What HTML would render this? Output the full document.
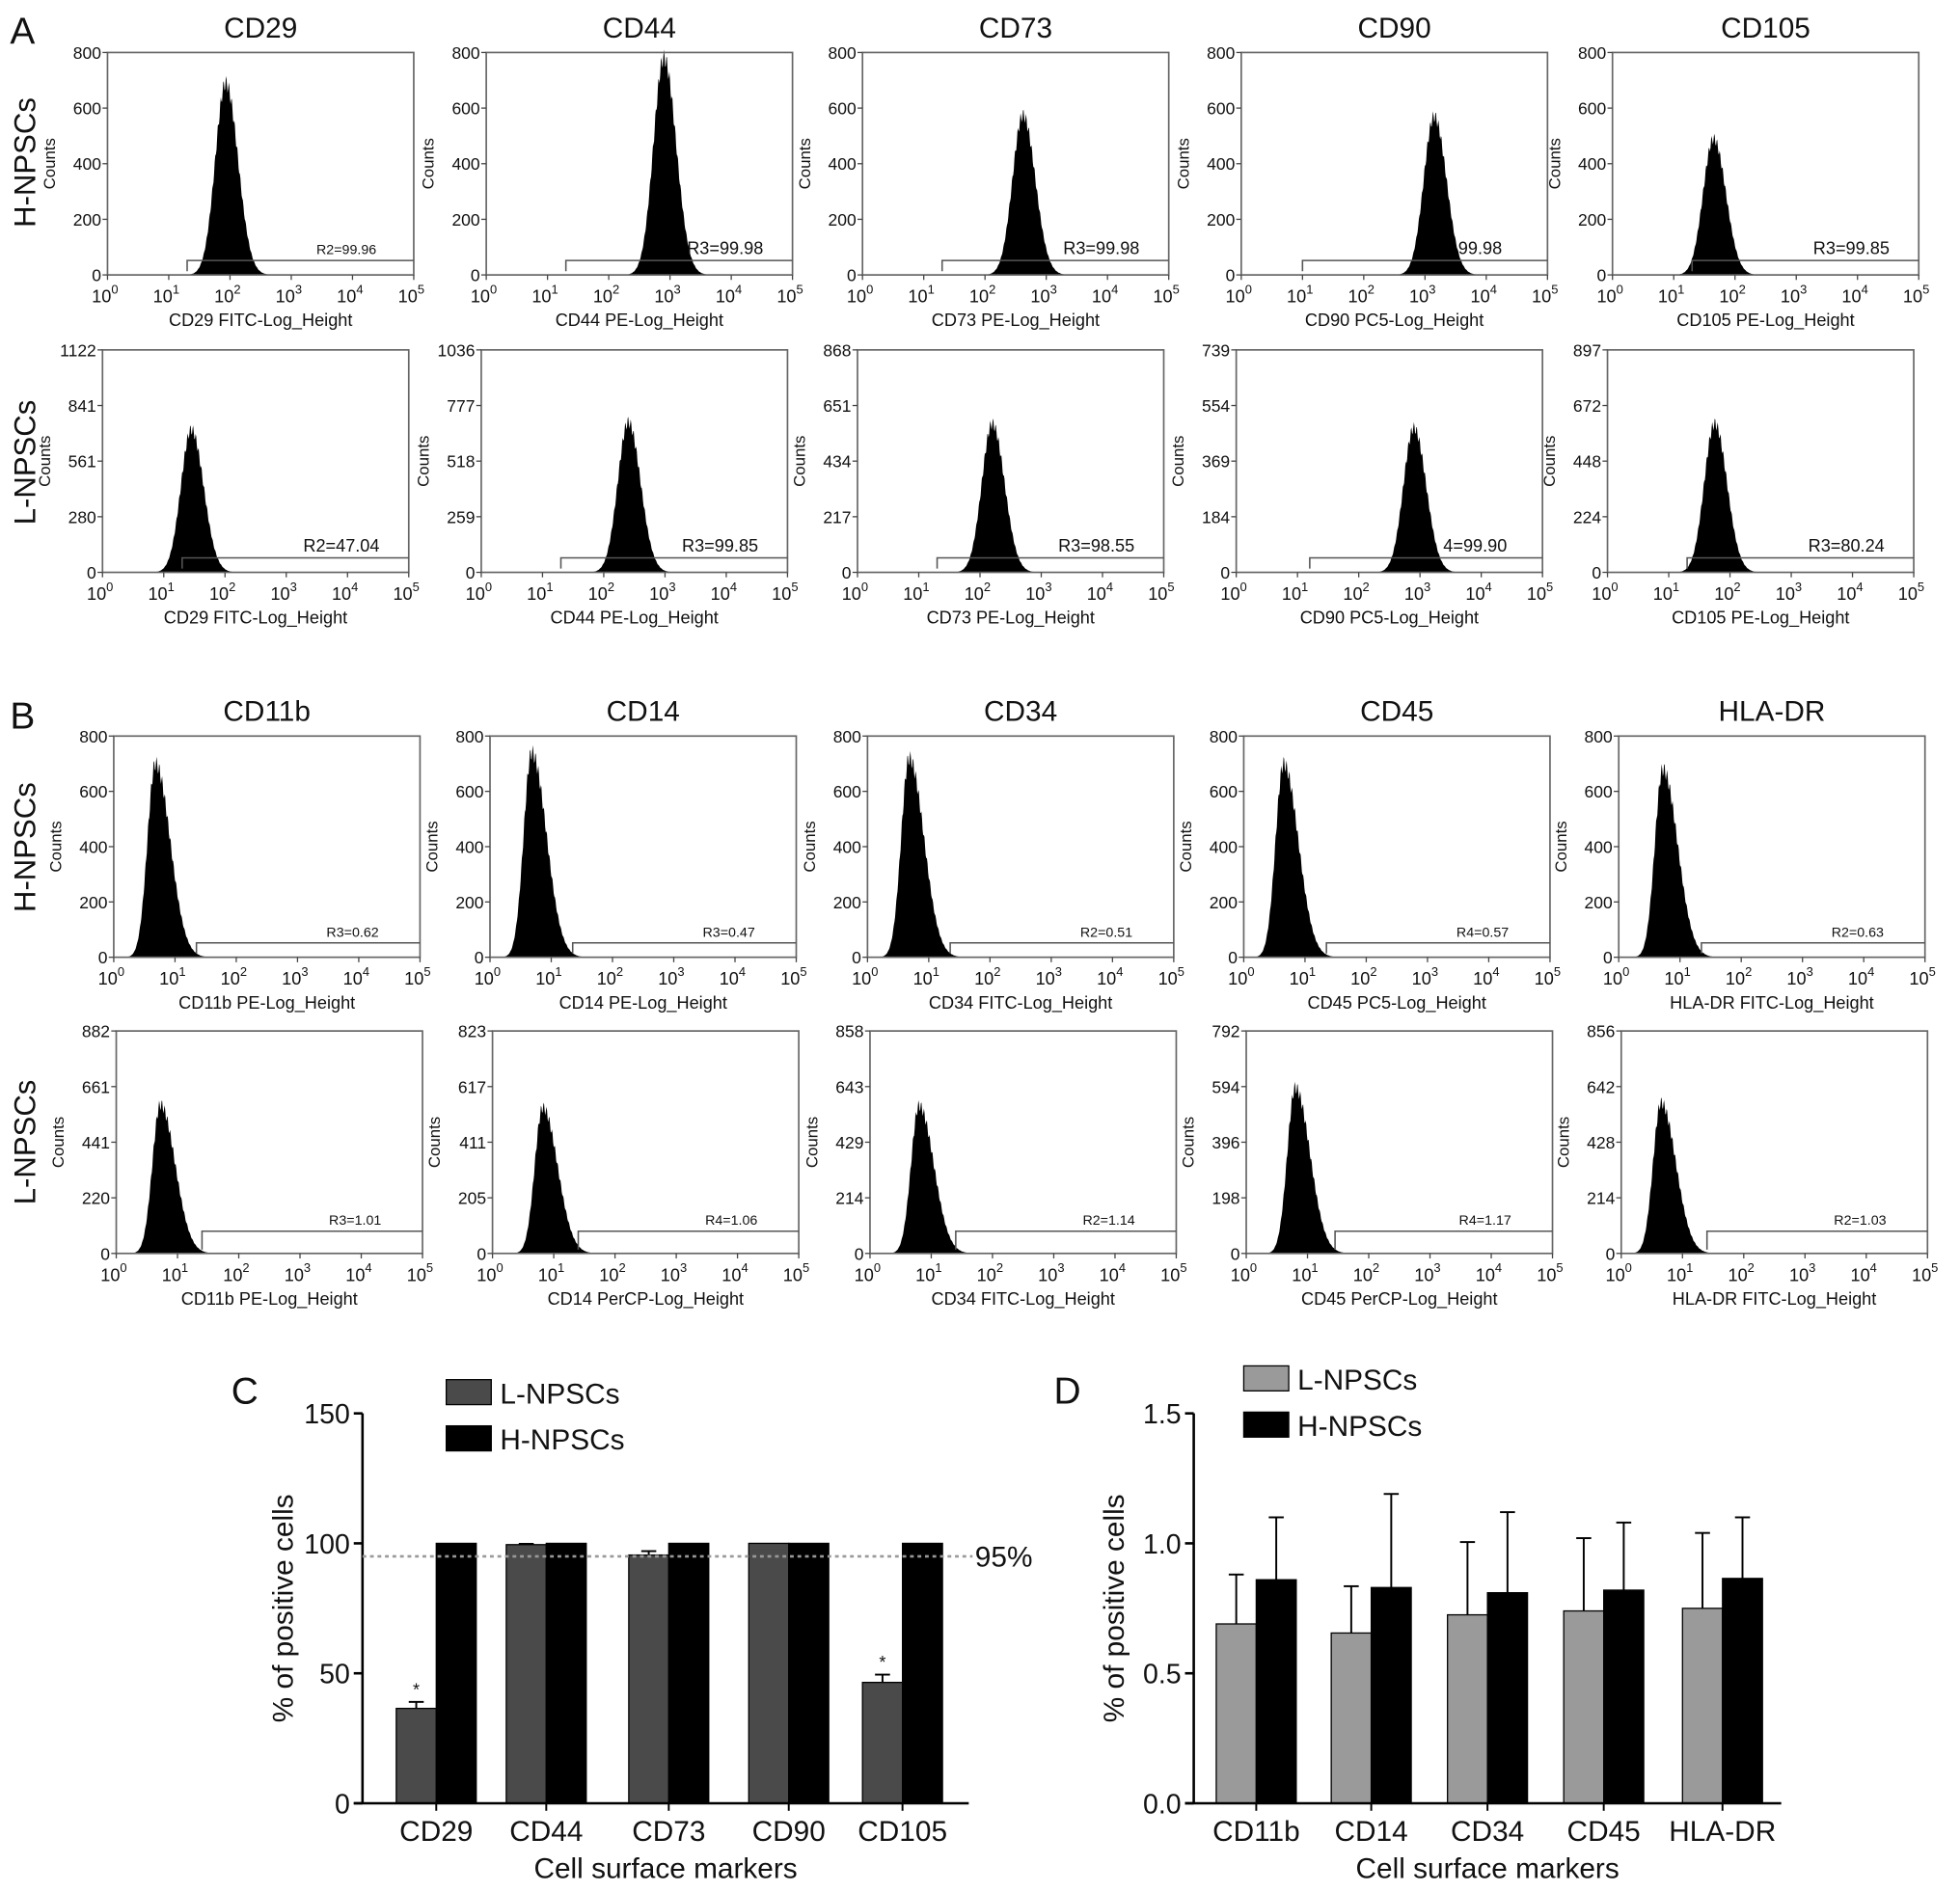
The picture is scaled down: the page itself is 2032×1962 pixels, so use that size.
<!DOCTYPE html>
<html><head><meta charset="utf-8">
<style>
html,body{margin:0;padding:0;background:#fff;}
svg{display:block;}
text{font-family:"Liberation Sans",Arial,sans-serif;fill:#111;}
</style></head>
<body>
<svg id="fig" width="2032" height="1962" viewBox="0 0 1568 1514" xmlns="http://www.w3.org/2000/svg">
<rect width="1568" height="1514" fill="#fff"/>
</svg>
<script>
// ===== Histogram panels data =====
const histTitlesA = ["CD29","CD44","CD73","CD90","CD105"];
const histTitlesB = ["CD11b","CD14","CD34","CD45","HLA-DR"];
const xTitlesA1 = ["CD29 FITC-Log_Height","CD44 PE-Log_Height","CD73 PE-Log_Height","CD90 PC5-Log_Height","CD105 PE-Log_Height"];
const xTitlesA2 = xTitlesA1;
const xTitlesB1 = ["CD11b PE-Log_Height","CD14 PE-Log_Height","CD34 FITC-Log_Height","CD45 PC5-Log_Height","HLA-DR FITC-Log_Height"];
const xTitlesB2 = ["CD11b PE-Log_Height","CD14 PerCP-Log_Height","CD34 FITC-Log_Height","CD45 PerCP-Log_Height","HLA-DR FITC-Log_Height"];
const yMaxA1 = [800,800,800,800,800];
const yMaxA2 = [1122,1036,868,739,897];
const yMaxB1 = [800,800,800,800,800];
const yMaxB2 = [882,823,858,792,856];
const yTicksA2 = [["0","280","561","841","1122"],["0","259","518","777","1036"],["0","217","434","651","868"],["0","184","369","554","739"],["0","224","448","672","897"]];
const yTicksB2 = [["0","220","441","661","882"],["0","205","411","617","823"],["0","214","429","643","858"],["0","198","396","594","792"],["0","214","428","642","856"]];
const peakA1 = [1.93,2.9,2.62,3.15,1.65];
const heightA1 = [690,780,575,570,490];
const peakA2 = [1.45,2.4,2.2,2.9,1.75];
const heightA2 = [720,700,580,480,600];
const peakB1 = [0.68,0.68,0.68,0.65,0.72];
const heightB1 = [700,740,720,700,680];
const peakB2 = [0.72,0.82,0.8,0.8,0.65];
const heightB2 = [590,540,570,590,580];
const gateA1 = [1.3,1.3,1.3,1.0,1.3];
const gateA2 = [1.3,1.3,1.3,1.2,1.3];
const gateB1 = [1.35,1.35,1.35,1.35,1.35];
const gateB2 = [1.4,1.4,1.4,1.45,1.4];
const gateLabelA1 = ["R2=99.96","R3=99.98","R3=99.98","99.98","R3=99.85"];
const gateLabelA2 = ["R2=47.04","R3=99.85","R3=98.55","4=99.90","R3=80.24"];
const gateLabelB1 = ["R3=0.62","R3=0.47","R2=0.51","R4=0.57","R2=0.63"];
const gateLabelB2 = ["R3=1.01","R4=1.06","R2=1.14","R4=1.17","R2=1.03"];

// ===== Bar chart C data =====
const catC = ["CD29","CD44","CD73","CD90","CD105"];
const lowC = [36.5,99.5,95.5,100,46.5];
const lowErrC = [2.5,0.3,1.5,0,3];
const highC = [100,100,100,100,100];
const highErrC = [0,0,0,0,0];
const ticksC = [0,50,100,150];
// ===== Bar chart D data =====
const catD = ["CD11b","CD14","CD34","CD45","HLA-DR"];
const lowD = [0.69,0.655,0.725,0.74,0.75];
const lowErrD = [0.19,0.18,0.28,0.28,0.29];
const highD = [0.86,0.83,0.81,0.82,0.865];
const highErrD = [0.24,0.36,0.31,0.26,0.235];
const ticksD = ["0.0","0.5","1.0","1.5"];

const NS="http://www.w3.org/2000/svg";
const svg=document.getElementById('fig');
function el(tag,attrs,parent,txt){const e=document.createElementNS(NS,tag);for(const k in attrs)e.setAttribute(k,attrs[k]);if(txt!==undefined)e.textContent=txt;(parent||svg).appendChild(e);return e;}

function histPlot(name,x0,y0,w,h,title,xTitle,yMax,yTickLabels,peak,ht,gate,gateLabel,skew,bigLabel,gateFrac){
  const g=el('g',{});
  
  
  const sx=v=>x0+v/5*w, sy=c=>y0+h-c/yMax*h;
  if(title){const t=el('text',{x:x0+w/2,y:y0-12,'font-size':23,'text-anchor':'middle'},g,title);}
  let lw=skew?0.13:0.17, rw=skew?0.24:0.2;
  let d=`M${sx(0)},${sy(0)}`;
  for(let v=0;v<=5.0001;v+=0.01){
    const s=v<peak?lw:rw; let c=ht*Math.exp(-0.5*Math.pow((v-peak)/s,2));
    const jitter=(Math.sin(v*137)*0.04)*c; c=Math.max(0,c+jitter);
    d+=` L${sx(v).toFixed(2)},${sy(c).toFixed(2)}`;
  }
  d+=` L${sx(5)},${sy(0)} Z`;
  const p=el('path',{d:d,fill:'#000'},g);
  
  const f=el('rect',{x:x0,y:y0,width:w,height:h,fill:'none',stroke:'#666','stroke-width':1.3},g);
  
  const gy=sy(yMax*gateFrac), gx=sx(gate);
  const gp=el('path',{d:`M${gx},${sy(0)-3} L${gx},${gy} L${x0+w},${gy}`,fill:'none',stroke:'#555','stroke-width':1.2},g);
  
  const gl=el('text',{x:x0+w*0.78,y:gy-5,'font-size':bigLabel?14:11,'text-anchor':'middle',fill:'#333'},g,gateLabel);
  
  yTickLabels.forEach((lab,i)=>{
    const yy=y0+h-i/4*h;
    el('line',{x1:x0-4,x2:x0,y1:yy,y2:yy,stroke:'#444'},g);
    const t=el('text',{x:x0-5,y:yy+5,'font-size':13.5,'text-anchor':'end'},g,lab);
    
  });
  for(let i=0;i<=5;i++){
    const xx=sx(i);
    el('line',{x1:xx,x2:xx,y1:y0+h,y2:y0+h+4,stroke:'#444'},g);
    const t=el('text',{x:xx-2,y:y0+h+22,'font-size':14,'text-anchor':'middle'},g);
    
    el('tspan',{},t,'10');el('tspan',{dy:-7,'font-size':10},t,String(i));
  }
  const xt=el('text',{x:x0+w/2,y:y0+h+41,'font-size':14,'text-anchor':'middle'},g,xTitle);
  
  const yt=el('text',{x:0,y:0,'font-size':13,'text-anchor':'middle',transform:`translate(${x0-42},${y0+h/2}) rotate(-90)`},g,'Counts');
  
}
const defTicks=["0","200","400","600","800"];
const colsA=[86,389,690,993,1290], colsB=[91,392,694,995,1295];
const W=245;
for(let i=0;i<5;i++){
  histPlot('hist-a-h-'+histTitlesA[i].toLowerCase(),colsA[i],42,W,178,histTitlesA[i],xTitlesA1[i],yMaxA1[i],defTicks,peakA1[i],heightA1[i],gateA1[i],gateLabelA1[i],false,i>0,0.065);
  histPlot('hist-a-l-'+histTitlesA[i].toLowerCase(),colsA[i]-4,280,W,178,null,xTitlesA2[i],yMaxA2[i],yTicksA2[i],peakA2[i],heightA2[i],gateA2[i],gateLabelA2[i],false,true,0.065);
  histPlot('hist-b-h-'+histTitlesB[i].toLowerCase(),colsB[i],589,W,177,histTitlesB[i],xTitlesB1[i],yMaxB1[i],defTicks,peakB1[i],heightB1[i],gateB1[i],gateLabelB1[i],true,false,0.065);
  histPlot('hist-b-l-'+histTitlesB[i].toLowerCase(),colsB[i]+2,825,W,178,null,xTitlesB2[i],yMaxB2[i],yTicksB2[i],peakB2[i],heightB2[i],gateB2[i],gateLabelB2[i],true,false,0.1);
}
function rowLabel(txt,cy,name){const t=el('text',{x:0,y:0,'font-size':24,'text-anchor':'middle',transform:`translate(28,${cy}) rotate(-90)`},svg,txt);}
rowLabel('H-NPSCs',130,'row-label-a-h');rowLabel('L-NPSCs',370,'row-label-a-l');
rowLabel('H-NPSCs',678,'row-label-b-h');rowLabel('L-NPSCs',914,'row-label-b-l');
function letter(txt,x,y,name){const t=el('text',{x:x,y:y,'font-size':30},svg,txt);}
letter('A',8,35,'panel-label-a');letter('B',8,583,'panel-label-b');letter('C',185,1123,'panel-label-c');letter('D',843,1123,'panel-label-d');

function barChart(pre,ax,x1,y0px,y1px,yMaxV,ticks,tickLab,cats,centers,low,lowErr,high,highErr,lowColor,legX,legY){
  const sy=v=>y0px-(v/yMaxV)*(y0px-y1px);
  const bw=32;
  cats.forEach((c,i)=>{
    const cx=centers[i];
    const b1=el('rect',{x:cx-bw,y:sy(low[i]),width:bw,height:y0px-sy(low[i]),fill:lowColor,stroke:'#000','stroke-width':1});
    
    if(lowErr[i]>0){el('line',{x1:cx-bw/2,x2:cx-bw/2,y1:sy(low[i]),y2:sy(low[i]+lowErr[i]),stroke:'#000','stroke-width':1.5});el('line',{x1:cx-bw/2-6,x2:cx-bw/2+6,y1:sy(low[i]+lowErr[i]),y2:sy(low[i]+lowErr[i]),stroke:'#000','stroke-width':1.5});}
    const b2=el('rect',{x:cx,y:sy(high[i]),width:bw,height:y0px-sy(high[i]),fill:'#000',stroke:'#000','stroke-width':1});
    
    if(highErr[i]>0){el('line',{x1:cx+bw/2,x2:cx+bw/2,y1:sy(high[i]),y2:sy(high[i]+highErr[i]),stroke:'#000','stroke-width':1.5});el('line',{x1:cx+bw/2-6,x2:cx+bw/2+6,y1:sy(high[i]+highErr[i]),y2:sy(high[i]+highErr[i]),stroke:'#000','stroke-width':1.5});}
    el('line',{x1:cx,x2:cx,y1:y0px,y2:y0px+6,stroke:'#000','stroke-width':1.5});
    const t=el('text',{x:cx,y:y0px+30,'font-size':23,'text-anchor':'middle'},svg,c);
    
  });
  ticks.forEach((v,i)=>{
    el('line',{x1:ax-7,x2:ax,y1:sy(v),y2:sy(v),stroke:'#000','stroke-width':2});
    const t=el('text',{x:ax-10,y:sy(v)+8,'font-size':22,'text-anchor':'end'},svg,tickLab[i]);
    
  });
  const ya=el('line',{x1:ax,x2:ax,y1:y0px,y2:y1px,stroke:'#000','stroke-width':2});
  const xa=el('line',{x1:ax-7,x2:x1,y1:y0px,y2:y0px,stroke:'#000','stroke-width':2});
  const mid=(ax+x1)/2;
  const xt=el('text',{x:mid,y:y0px+60,'font-size':23,'text-anchor':'middle'},svg,'Cell surface markers');
  const yt=el('text',{x:0,y:0,'font-size':23,'text-anchor':'middle',transform:`translate(${ax-56},${(y0px+y1px)/2}) rotate(-90)`},svg,'% of positive cells');
  [[lowColor,'L-NPSCs'],['#000','H-NPSCs']].forEach((L,k)=>{
    const r=el('rect',{x:legX,y:legY+k*37,width:36,height:20,fill:L[0],stroke:'#000'});
    const t=el('text',{x:legX+43,y:legY+k*37+19,'font-size':23},svg,L[1]);
  });
  return sy;
}
const centersC=[349,437,535,631,722];
const syC=barChart('c',290,775,1443,1131,150,ticksC,ticksC.map(String),catC,centersC,lowC,lowErrC,highC,highErrC,'#4a4a4a',357,1104);
const dl=el('line',{x1:290,x2:778,y1:syC(95),y2:syC(95),stroke:'#999','stroke-width':2,'stroke-dasharray':'3,3'});
const dt=el('text',{x:780,y:syC(95)+8,'font-size':23},svg,'95%');
[0,4].forEach(i=>{const s=el('text',{x:centersC[i]-16,y:syC(lowC[i]+lowErrC[i])-5,'font-size':14,'text-anchor':'middle'},svg,'*');});
barChart('d',955,1425,1443,1131,1.5,[0,0.5,1.0,1.5],ticksD,catD,[1005,1097,1190,1283,1378],lowD,lowErrD,highD,highErrD,'#9a9a9a',995,1093);
</script>
</body></html>
